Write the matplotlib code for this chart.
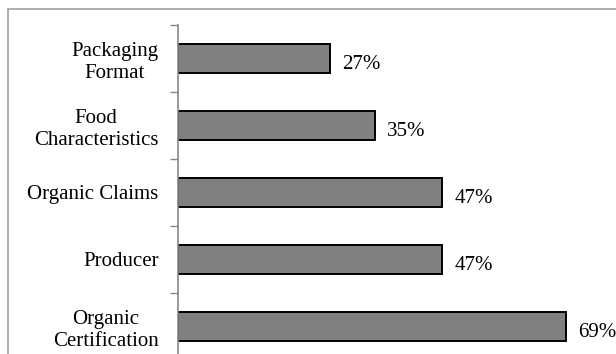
import matplotlib.pyplot as plt
from matplotlib.patches import Rectangle

# attribute labels, bottom to top
categories = ["Organic\nCertification", "Producer", "Organic Claims",
              "Food\nCharacteristics", "Packaging\nFormat"]
shares = [69, 47, 47, 35, 27]
share_labels = ["69%", "47%", "47%", "35%", "27%"]

plt.rcParams["font.family"] = ["Liberation Serif", "DejaVu Serif"]

W, H = 616, 354
fig = plt.figure(figsize=(W / 100, H / 100), dpi=100)

# outer chart border
fig.patches.append(Rectangle((7.5 / W, -0.1), 1.2, 1 - 9.5 / H + 0.1,
                             transform=fig.transFigure, fill=False,
                             edgecolor="#a0a0a0", linewidth=1.2))

px_per_pct = 5.62
left_px, top_px, step_px = 178, 25, 67
ax = fig.add_axes([left_px / W, 1 - (top_px + 5 * step_px) / H,
                   px_per_pct * 80 / W, 5 * step_px / H])

ypos = list(range(len(categories)))
ax.barh(ypos, shares, height=0.42, color="#808080",
        edgecolor="black", linewidth=1.4, zorder=2)

for y, v, lab in zip(ypos, shares, share_labels):
    ax.annotate(lab, (v, y), xytext=(12, -6), textcoords="offset pixels",
                ha="left", va="center", fontsize=15)

ax.set_xlim(0, 80)
ax.set_ylim(-0.5, 4.5)
ax.set_xticks([])
ax.set_yticks(ypos)
ax.set_yticklabels(categories, fontsize=15, multialignment="center",
                   linespacing=1.2)
ax.tick_params(axis="y", which="major", length=0, pad=14)
ax.set_yticks([i - 0.5 for i in range(len(categories) + 1)], minor=True)
ax.tick_params(axis="y", which="minor", length=6, width=1, color="#888888")

for side in ["top", "right", "bottom"]:
    ax.spines[side].set_visible(False)
ax.spines["left"].set_color("#888888")
ax.spines["left"].set_linewidth(1.2)
ax.spines["left"].set_zorder(3)

fig.savefig("out.png", dpi=100)
